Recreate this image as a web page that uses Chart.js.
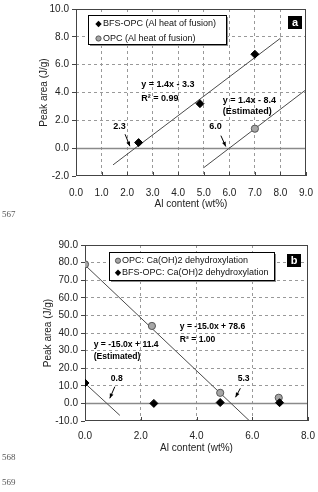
<!DOCTYPE html>
<html>
<head>
<meta charset="utf-8">
<script src="https://cdn.jsdelivr.net/npm/chart.js@4"></script>
<style>
  body { margin: 0; background: #fff; width: 318px; height: 492px; position: relative; overflow: hidden; }
  .cw { position: absolute; left: 0; width: 318px; }
  #wa { top: 0; height: 210px; }
  #wb { top: 235px; height: 219px; }
  .ln { position: absolute; left: 2px; font: 9px "Liberation Serif", "Times New Roman", serif; color: #555; }
</style>
</head>
<body>
<div class="cw" id="wa"><canvas id="chartA"></canvas></div>
<div class="cw" id="wb"><canvas id="chartB"></canvas></div>
<div class="ln" style="top:209px">567</div>
<div class="ln" style="top:452px">568</div>
<div class="ln" style="top:477px">569</div>
<script>
// ---- panel a : Al heat of fusion ----
const aXTicks = [0, 1, 2, 3, 4, 5, 6, 7, 8, 9];
const aYTicks = [-2, 0, 2, 4, 6, 8, 10];
const bfsAlX = [2.45, 4.85, 7.0];
const bfsAlY = [0.4, 3.2, 6.75];
const opcAlX = [7.0];
const opcAlY = [1.4];
const bfsAlFitX = [1.45, 8.0];
const bfsAlFitY = [-1.2, 7.9];
const opcAlFitX = [5.0, 9.0];
const opcAlFitY = [-1.4, 4.2];

// ---- panel b : Ca(OH)2 dehydroxylation ----
const bXTicks = [0, 2, 4, 6, 8];
const bYTicks = [-10, 0, 10, 20, 30, 40, 50, 60, 70, 80, 90];
const opcChX = [0, 2.4, 4.85, 6.95];
const opcChY = [79, 44, 6, 3.2];
const bfsChX = [0, 2.47, 4.85, 6.98];
const bfsChY = [11.6, 0, 0.5, 0.4];
const opcChFitX = [0, 5.9];
const opcChFitY = [78.6, -9.9];
const bfsChFitX = [0, 1.25];
const bfsChFitY = [11.4, -6.8];

const FONT = '"Liberation Sans", Arial, sans-serif';
const TXT = '#222';
const pts = (xs, ys) => xs.map((x, i) => ({ x, y: ys[i] }));

function drawDiamond(ctx, x, y, r) {
  ctx.beginPath();
  ctx.moveTo(x, y - r); ctx.lineTo(x + r, y); ctx.lineTo(x, y + r); ctx.lineTo(x - r, y);
  ctx.closePath();
  ctx.fillStyle = '#000'; ctx.fill();
}
function drawDot(ctx, x, y, r) {
  ctx.beginPath();
  ctx.arc(x, y, r, 0, Math.PI * 2);
  ctx.fillStyle = '#a6a6a6'; ctx.fill();
  ctx.strokeStyle = '#555'; ctx.lineWidth = 1; ctx.stroke();
}

// frame, zero line, inward x ticks, notes, arrows, legend and panel tag
const framePlugin = {
  id: 'frame',
  beforeDatasetsDraw(chart, args, o) {
    const { ctx, chartArea: a, scales: { x, y } } = chart;
    ctx.save();
    const y0 = Math.round(y.getPixelForValue(0)) + 0.5;
    ctx.strokeStyle = '#8a8a8a'; ctx.lineWidth = 1.5;
    ctx.beginPath(); ctx.moveTo(a.left, y0); ctx.lineTo(a.right, y0); ctx.stroke();
    ctx.strokeStyle = '#444'; ctx.lineWidth = 1;
    ctx.strokeRect(a.left + 0.5, a.top + 0.5, a.width - 1, a.height - 1);
    x.ticks.forEach(t => {
      const px = Math.round(x.getPixelForValue(t.value)) + 0.5;
      ctx.beginPath(); ctx.moveTo(px, a.bottom); ctx.lineTo(px, a.bottom - 4); ctx.stroke();
    });
    ctx.restore();
  },
  afterDraw(chart, args, o) {
    const { ctx, scales: { x, y } } = chart;
    ctx.save();
    ctx.fillStyle = '#000';
    ctx.textBaseline = 'middle';
    o.notes.forEach(n => {
      ctx.font = 'bold ' + o.noteSize + 'px ' + FONT;
      ctx.textAlign = n.align || 'left';
      ctx.fillText(n.t, x.getPixelForValue(n.x), y.getPixelForValue(n.y));
    });
    o.arrows.forEach(([x1, y1, x2, y2]) => {
      const p1 = [x.getPixelForValue(x1), y.getPixelForValue(y1)];
      const p2 = [x.getPixelForValue(x2), y.getPixelForValue(y2)];
      const ang = Math.atan2(p2[1] - p1[1], p2[0] - p1[0]);
      ctx.strokeStyle = '#000'; ctx.lineWidth = 1;
      ctx.beginPath(); ctx.moveTo(p1[0], p1[1]); ctx.lineTo(p2[0], p2[1]); ctx.stroke();
      ctx.beginPath();
      ctx.moveTo(p2[0], p2[1]);
      ctx.lineTo(p2[0] - 5 * Math.cos(ang - 0.4), p2[1] - 5 * Math.sin(ang - 0.4));
      ctx.lineTo(p2[0] - 5 * Math.cos(ang + 0.4), p2[1] - 5 * Math.sin(ang + 0.4));
      ctx.closePath(); ctx.fill();
    });
    // legend
    const L = o.legend;
    ctx.fillStyle = '#8c8c8c'; ctx.fillRect(L.x + 2, L.y + 2, L.w, L.h);
    ctx.fillStyle = '#fff'; ctx.fillRect(L.x, L.y, L.w, L.h);
    ctx.strokeStyle = '#000'; ctx.lineWidth = 1; ctx.strokeRect(L.x + 0.5, L.y + 0.5, L.w, L.h);
    ctx.font = '9px ' + FONT; ctx.textAlign = 'left';
    L.items.forEach((it, i) => {
      const ry = L.y + L.rows[i];
      if (it.mark === 'diamond') drawDiamond(ctx, L.mx, ry, 3.2); else drawDot(ctx, L.mx, ry, 2.6);
      ctx.fillStyle = '#111';
      ctx.fillText(it.text, L.tx, ry);
    });
    // panel tag
    const T = o.tag;
    ctx.fillStyle = '#000'; ctx.fillRect(T.x, T.y, 14, 13);
    ctx.fillStyle = '#fff'; ctx.font = 'bold 11px ' + FONT; ctx.textAlign = 'center';
    ctx.fillText(T.t, T.x + 7, T.y + 7);
    ctx.restore();
  }
};

// tl: tick mark length (x ticks are hidden and only push labels down)
function axisOpts(ticks, min, max, isX, title, size, tl) {
  return {
    type: 'linear', min, max,
    afterBuildTicks: s => { s.ticks = ticks.map(v => ({ value: v })); },
    afterFit: s => { if (isX) s.height = size; else s.width = size; },
    ticks: { callback: v => Number(v).toFixed(1), color: TXT, font: { family: FONT, size: 10 }, padding: isX ? 2 : 3, maxRotation: 0, autoSkip: false },
    grid: {
      color: c => (c.tick && (c.tick.value === min || c.tick.value === max || c.tick.value === 0)) ? 'rgba(0,0,0,0)' : '#999',
      lineWidth: 1, drawTicks: true, tickLength: tl, tickColor: isX ? 'rgba(0,0,0,0)' : '#444', tickBorderDash: []
    },
    border: { display: false, dash: [3, 3] },
    title: { display: true, text: title, color: TXT, font: { family: FONT, size: 10 }, padding: 0 }
  };
}

const fitStyle = { showLine: true, pointRadius: 0, borderColor: '#4a4a4a', borderWidth: 1, fill: false, order: 3 };
const diamondStyle = { pointStyle: 'rectRot', pointRadius: 4, backgroundColor: '#000', borderColor: '#000', borderWidth: 1, order: 1 };
const dotStyle = { pointStyle: 'circle', pointRadius: 3.6, backgroundColor: '#a6a6a6', borderColor: '#555', borderWidth: 1, order: 2 };

new Chart(document.getElementById('chartA'), {
  type: 'scatter',
  data: {
    datasets: [
      { label: 'BFS-OPC (Al heat of fusion)', data: pts(bfsAlX, bfsAlY), ...diamondStyle },
      { label: 'OPC (Al heat of fusion)', data: pts(opcAlX, opcAlY), ...dotStyle },
      { label: 'fit BFS', data: pts(bfsAlFitX, bfsAlFitY), ...fitStyle },
      { label: 'fit OPC', data: pts(opcAlFitX, opcAlFitY), ...fitStyle }
    ]
  },
  options: {
    responsive: true, maintainAspectRatio: false, animation: false,
    layout: { padding: { left: 38, top: 6, right: 12, bottom: 0 } },
    scales: {
      x: axisOpts(aXTicks, 0, 9, true, 'Al content (wt%)', 34, 9),
      y: axisOpts(aYTicks, -2, 10, false, 'Peak area (J/g)', 38, 4)
    },
    plugins: {
      legend: { display: false }, tooltip: { enabled: false },
      frame: {
        noteSize: 9,
        notes: [
          { t: 'y = 1.4x - 3.3', x: 2.55, y: 4.55 },
          { t: 'R² = 0.99', x: 2.55, y: 3.55 },
          { t: 'y = 1.4x - 8.4', x: 5.74, y: 3.45 },
          { t: '(Estimated)', x: 5.74, y: 2.65 },
          { t: '2.3', x: 1.70, y: 1.55, align: 'center' },
          { t: '6.0', x: 5.46, y: 1.55, align: 'center' }
        ],
        arrows: [[1.92, 1.0, 2.11, 0.14], [5.67, 0.9, 5.86, 0.12]],
        legend: {
          x: 88, y: 15, w: 138, h: 29, mx: 98.5, tx: 103, rows: [9, 23.5],
          items: [{ mark: 'diamond', text: 'BFS-OPC (Al heat of fusion)' }, { mark: 'dot', text: 'OPC (Al heat of fusion)' }]
        },
        tag: { t: 'a', x: 288, y: 16 }
      }
    }
  },
  plugins: [framePlugin]
});

new Chart(document.getElementById('chartB'), {
  type: 'scatter',
  data: {
    datasets: [
      { label: 'OPC: Ca(OH)2 dehydroxylation', data: pts(opcChX, opcChY), ...dotStyle },
      { label: 'BFS-OPC: Ca(OH)2 dehydroxylation', data: pts(bfsChX, bfsChY), ...diamondStyle },
      { label: 'fit OPC', data: pts(opcChFitX, opcChFitY), ...fitStyle },
      { label: 'fit BFS', data: pts(bfsChFitX, bfsChFitY), ...fitStyle }
    ]
  },
  options: {
    responsive: true, maintainAspectRatio: false, animation: false,
    layout: { padding: { left: 42, top: 10, right: 10, bottom: 0 } },
    scales: {
      x: axisOpts(bXTicks, 0, 8, true, 'Al content (wt%)', 33, 7),
      y: axisOpts(bYTicks, -10, 90, false, 'Peak area (J/g)', 43, 4)
    },
    plugins: {
      legend: { display: false }, tooltip: { enabled: false },
      frame: {
        noteSize: 8.6,
        notes: [
          { t: 'y = -15.0x + 78.6', x: 3.40, y: 43.5 },
          { t: 'R² = 1.00', x: 3.40, y: 36.3 },
          { t: 'y = -15.0x + 11.4', x: 0.31, y: 33.5 },
          { t: '(Estimated)', x: 0.31, y: 26.7 },
          { t: '0.8', x: 1.14, y: 13.9, align: 'center' },
          { t: '5.3', x: 5.69, y: 13.9, align: 'center' }
        ],
        arrows: [[1.07, 9.5, 0.89, 2.9], [5.575, 8.6, 5.40, 3.5]],
        legend: {
          x: 109, y: 17, w: 165, h: 28, mx: 118, tx: 122, rows: [8.7, 20.7],
          items: [{ mark: 'dot', text: 'OPC: Ca(OH)2 dehydroxylation' }, { mark: 'diamond', text: 'BFS-OPC: Ca(OH)2 dehydroxylation' }]
        },
        tag: { t: 'b', x: 287, y: 19 }
      }
    }
  },
  plugins: [framePlugin]
});
</script>
</body>
</html>
